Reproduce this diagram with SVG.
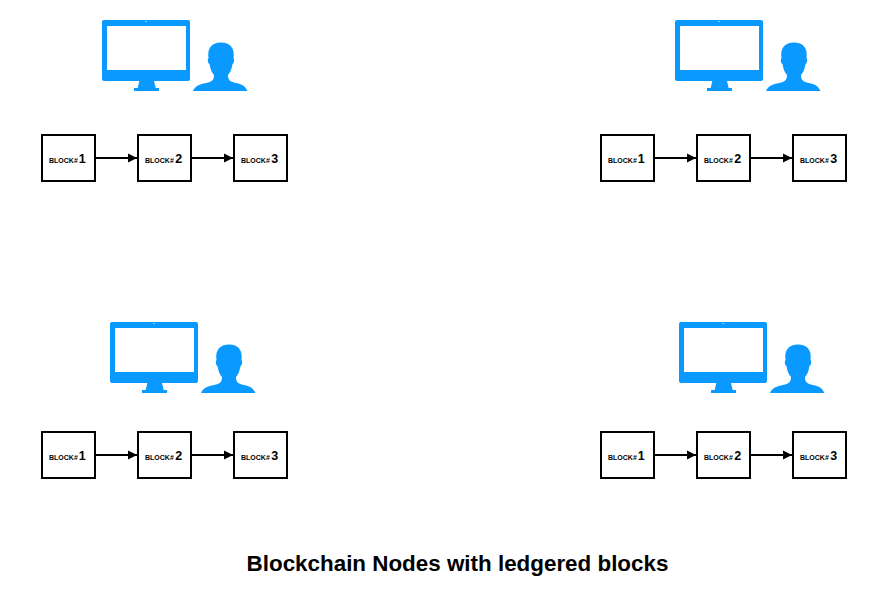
<svg xmlns="http://www.w3.org/2000/svg" width="893" height="611" viewBox="0 0 893 611">
<style>
.box{fill:#fff;stroke:#000;stroke-width:2}
.arrow{fill:none;stroke:#000;stroke-width:2;marker-end:url(#ah)}
.icon{fill:#0a9aff}
text{font-family:"Liberation Sans",Arial,sans-serif;font-weight:700;fill:#000}
.lbl{font-size:7px}
.num{font-size:12.500px}
.title{font-size:22.400px;text-anchor:middle}
</style>
<defs>
<marker id="ah" markerUnits="userSpaceOnUse" markerWidth="9" markerHeight="10" refX="9" refY="5" orient="auto"><path d="M0 0.500L9 5L0 9.500Z" fill="#000"/></marker>
<g id="pc">
<path class="icon" fill-rule="evenodd" d="M2 0H86Q88 0 88 2V59Q88 61 86 61H52L53.700 68H57V71H32V68H35.700L37.300 61H2Q0 61 0 59V2Q0 0 2 0ZM5 6V50H84V6Z"/>
<path d="M43.500 1h1v1h-1z" fill="#fff"/>
<path class="icon" d="M91 71C93 66 98 64 104 63C110 62 112 60 112 55C109 52 108 47 107.500 44C105.500 43 105.500 39 106.500 38C105 28 110 22.500 119 22.500C128 22.500 133 28 131.500 38C132.500 39 132.500 43 130.500 44C130 47 129 52 126 55C126 60 128 62 134 63C140 64 143 66 145.500 71Z"/>
</g>
<g id="chain">
<rect class="box" x="0" y="0" width="53" height="46"/>
<rect class="box" x="96" y="0" width="53" height="46"/>
<rect class="box" x="192" y="0" width="53" height="46"/>
<text y="28"><tspan class="lbl" x="7">BLOCK#</tspan><tspan class="num" dx="1">1</tspan></text>
<text y="28"><tspan class="lbl" x="103">BLOCK#</tspan><tspan class="num" dx="1.500">2</tspan></text>
<text y="28"><tspan class="lbl" x="199">BLOCK#</tspan><tspan class="num" dx="1.500">3</tspan></text>
</g>
</defs>
<g id="node-top-left"><use href="#pc" x="102" y="20"/><use href="#chain" x="42" y="135"/></g>
<g id="node-top-right"><use href="#pc" x="675" y="20"/><use href="#chain" x="601" y="135"/></g>
<g id="node-bottom-left"><use href="#pc" x="110" y="322"/><use href="#chain" x="42" y="432"/></g>
<g id="node-bottom-right"><use href="#pc" x="679" y="322"/><use href="#chain" x="601" y="432"/></g>
<g id="connectors">
<path class="arrow" d="M96 158H137"/><path class="arrow" d="M192 158H233"/>
<path class="arrow" d="M655 158H696"/><path class="arrow" d="M751 158H792"/>
<path class="arrow" d="M96 455H137"/><path class="arrow" d="M192 455H233"/>
<path class="arrow" d="M655 455H696"/><path class="arrow" d="M751 455H792"/>
</g>
<text class="title" x="457.500" y="570.500">Blockchain Nodes with ledgered blocks</text>
</svg>
